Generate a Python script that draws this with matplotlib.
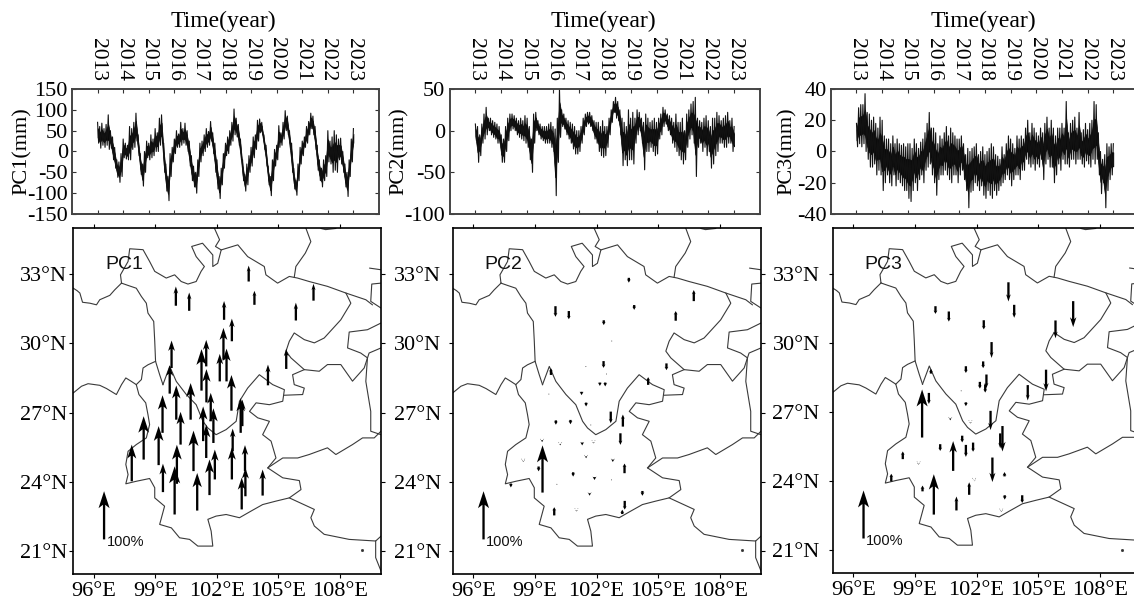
import numpy as np
import matplotlib
matplotlib.use('Agg')
import matplotlib.pyplot as plt

plt.rcParams['font.family'] = ['Liberation Serif', 'DejaVu Serif']

W, H = 1134, 603
year_ticks = list(range(2013, 2024))
year_labels = [str(y) for y in year_ticks]

pc1_hi = [70,60,68,55,65,88,50,35,10,-20,-25,-5,
          30,20,15,60,55,70,92,40,-5,-30,0,25,
          20,40,30,55,45,80,88,20,-30,-60,-5,10,
          30,50,42,70,55,68,50,25,-10,-35,-50,-20,
          20,25,40,55,48,72,45,20,-20,-60,-40,-5,
          20,35,50,70,102,80,65,30,-20,-55,-30,-10,
          10,35,40,75,78,70,40,15,-35,-60,-20,5,
          15,62,45,70,98,85,50,20,-40,-70,-30,10,
          25,35,60,72,92,85,60,15,-20,-40,-20,-10,
          50,25,35,50,40,30,32,0,-30,-50,-20,30,
          55]
pc1_lo = [20,8,15,10,15,5,8,-20,-40,-62,-74,-60,
          -15,-18,-20,-20,5,10,25,-10,-55,-83,-50,-15,
          -20,-15,-10,0,0,15,20,-50,-95,-118,-60,-25,
          -5,10,10,15,20,15,0,-35,-70,-85,-100,-60,
          -25,-10,0,10,15,25,-5,-50,-90,-113,-80,-40,
          -10,-5,15,25,40,35,15,-20,-70,-95,-80,-50,
          -35,-15,5,25,45,40,5,-35,-80,-106,-70,-35,
          -20,10,15,30,50,40,5,-50,-90,-105,-70,-30,
          -10,10,20,40,55,40,5,-45,-70,-85,-70,-60,
          -25,-30,-50,-45,-50,-20,-30,-50,-85,-108,-60,-25,
          10]
pc2_hi = [8,5,-5,8,20,28,15,15,12,10,8,5,
          -5,-10,5,15,20,20,18,15,12,15,12,18,
          15,5,-10,20,22,12,8,5,5,5,8,10,
          5,2,15,50,25,20,15,12,10,8,5,0,
          0,5,15,20,22,22,18,12,10,10,5,12,
          5,5,15,25,35,40,35,25,15,10,5,25,
          15,22,15,25,22,15,10,20,15,10,12,15,
          10,15,20,28,25,20,18,15,10,20,10,10,
          15,0,20,25,32,35,40,15,12,10,15,18,
          12,5,15,15,22,18,12,15,18,22,12,15,
          5]
pc2_lo = [-12,-38,-30,-15,-10,-5,0,-5,-8,-10,-15,-15,
          -38,-38,-25,-12,0,2,0,-5,-8,-10,-12,-15,
          -20,-35,-50,-15,0,-5,-10,-12,-15,-15,-15,-20,
          -25,-78,-38,-8,5,2,-5,-10,-15,-22,-28,-28,
          -25,-15,-5,5,8,5,0,-10,-15,-25,-30,-32,
          -30,-20,-5,10,22,15,12,-5,-42,-35,-42,-35,
          -35,-40,-15,-5,0,-15,-47,-25,-25,-20,-25,-30,
          -28,-10,-5,5,8,0,-5,-15,-20,-25,-30,-35,
          -40,-35,-20,-10,-5,-15,-55,-20,-15,-25,-20,-30,
          -25,-45,-40,-30,-25,-15,-15,-20,-20,-15,-15,-25,
          -28]
pc3_hi = [18,28,30,30,37,25,24,20,22,18,15,22,
          20,10,8,8,5,10,5,8,5,4,5,3,
          5,5,2,8,5,2,6,8,12,18,25,15,
          15,12,5,10,8,12,16,10,15,12,10,8,
          8,10,5,-2,2,0,2,3,5,-2,0,3,
          -2,0,2,5,3,-2,-3,-5,3,-2,5,10,
          8,5,2,10,8,10,8,15,20,12,18,15,
          12,10,15,12,18,22,15,20,15,10,15,15,
          18,15,32,12,18,20,22,15,25,12,14,18,
          14,18,20,32,30,12,0,-5,-2,5,3,5,
          5]
pc3_lo = [3,5,3,5,0,-5,-10,-10,-8,-15,-12,-15,
          -25,-20,-15,-20,-22,-15,-22,-18,-20,-22,-25,-25,
          -30,-32,-25,-20,-25,-18,-15,-20,-12,-10,-8,-15,
          -20,-28,-18,-15,-15,-12,-15,-18,-20,-15,-15,-20,
          -15,-12,-18,-25,-36,-26,-25,-20,-22,-25,-22,-28,
          -30,-25,-28,-30,-25,-28,-25,-22,-20,-18,-15,-18,
          -22,-18,-15,-15,-18,-12,-12,-5,-8,-10,-8,-12,
          -8,-10,-5,-18,-8,-5,-10,-10,-20,-15,-8,-12,
          -5,-8,-8,-10,-5,-5,-8,-5,-5,-8,-10,-6,
          -8,-10,-5,-8,-5,-15,-27,-20,-36,-25,-18,-15,
          -15]

# site tail lon, tail lat, signed length in percent
pc1_lon = [100.0,100.65,103.55,103.83,105.85,106.71,102.35,102.73,102.32,99.79,101.48,101.25,102.14,102.47,105.38,104.49,99.7,101.49,100.72,100.02,99.35,102.71,101.7,103.16,103.24,101.33,101.83,100.23,98.43,99.16,101.48,100.86,102.77,102.73,103.37,97.85,100.05,101.9,99.37,99.94,101.04,101.64,103.39,103.21,104.23]
pc1_lat = [31.63,31.41,32.68,31.67,30.99,31.85,31.02,30.09,29.29,28.93,29.0,27.95,28.35,28.35,28.89,28.18,27.82,27.44,26.69,26.69,26.12,27.08,26.62,26.12,26.41,25.76,25.68,25.61,24.96,24.72,25.03,24.46,25.32,24.1,24.46,24.02,23.91,24.1,23.55,22.58,22.75,23.42,23.37,22.8,23.4]
pc1_val = [40,38,33,29,37,35,39,47,66,57,55,86,57,68,42,43,59,69,76,71,78,74,59,72,55,72,72,68,90,81,69,84,47,66,54,76,81,62,59,100,78,74,59,66,54]

pc2_lon = [103.57,106.73,105.85,103.83,100.0,100.65,102.35,102.74,102.34,101.48,105.4,102.48,99.78,104.51,102.16,102.42,101.27,99.68,101.49,102.69,103.28,100.02,100.73,101.72,103.16,99.37,99.35,100.23,101.3,101.85,101.49,102.79,103.36,98.43,99.18,100.86,101.9,102.73,100.07,97.83,104.23,101.66,103.37,99.94,101.02,103.25]
pc2_lat = [32.84,31.83,30.98,31.66,31.61,31.4,31.0,30.1,29.23,28.99,29.13,28.67,28.63,28.2,28.3,28.3,27.9,27.8,27.43,27.04,26.39,26.66,26.68,26.46,26.1,23.53,25.8,25.64,25.7,25.7,25.1,24.96,24.37,24.9,24.66,24.41,24.2,24.08,23.89,23.92,23.6,23.5,23.17,22.54,22.75,22.6]
pc2_val = [-10,23,20,-10,-22,-17,-10,-1,-14,-1,-14,-1,14,16,-7,-8,-7,-1,-8,-24,25,-9,-9,-1,-24,98,-4,-3,-6,-2,-4,-5,20,-2,-10,-9,-6,-1,-1,-8,-10,-5,-18,17,-2,9]

pc3_lon = [103.55,103.83,106.7,105.84,100.0,100.65,102.35,102.73,102.32,101.48,99.78,102.48,105.38,102.16,102.42,104.49,101.25,99.68,101.48,99.35,100.72,102.68,101.7,103.26,103.15,101.3,100.23,101.48,101.83,100.86,98.41,99.18,102.77,103.36,97.85,101.88,99.37,101.64,99.92,101.02,103.37,104.22,103.2]
pc3_lat = [32.64,31.66,31.82,30.98,31.6,31.37,30.99,30.04,29.2,28.99,28.67,28.63,28.84,28.31,28.2,28.17,27.92,27.83,27.42,25.89,26.72,27.05,26.54,26.39,26.07,25.97,25.6,25.57,25.67,24.44,24.95,24.75,25.02,24.2,23.98,24.03,23.55,23.4,22.54,22.72,23.38,23.38,22.7]
pc3_val = [-40,-27,-54,-37,-16,-21,-19,-33,-14,-14,10,-28,-45,-14,-17,-32,-1,-23,-8,100,-4,-40,-2,-53,-31,-14,-14,-25,-19,62,16,-2,-51,9,16,-2,12,26,84,29,-9,-16,-2]

# boundaries (lon, lat)
qinghai_tibet = ([95.0,95.19,95.32,95.45,95.81,96.13,96.29,96.78,97.02,97.35],
                 [32.39,32.28,32.18,31.78,31.74,31.67,31.89,32.08,32.32,32.61])
sichuan_west = ([97.35,97.67,98.07,98.32,98.56,98.64,98.92,98.97,99.01,99.21,99.37],
                [32.61,32.51,32.39,32.03,31.74,31.31,30.95,30.09,29.22,28.64,28.21])
sichuan_north = ([97.35,97.3,97.67,97.75,98.4,98.72,98.97,99.53,99.94,100.26,100.59,100.99,101.23,101.39,100.99,100.77,101.3,101.8,101.8,102.04,102.21,103.02,103.5,104.31,104.39,104.96,105.53,105.93,106.5,107.39,108.29,108.53,108.04,107.23,106.75,106.26,105.77,105.53,105.37,105.61,106.26,106.99,107.39,108.04,108.61,109.18,109.42,110.0],
                 [32.61,32.97,33.55,34.1,34.06,33.55,33.12,32.83,32.97,32.68,32.57,32.68,33.12,33.33,33.76,34.2,34.34,33.83,33.33,33.47,34.05,34.27,33.76,33.33,32.97,32.61,32.9,32.83,32.68,32.47,32.18,31.74,31.02,30.23,30.02,30.16,30.45,30.09,29.66,29.37,28.86,28.79,29.08,29.08,28.36,28.93,29.58,29.8])
gansu_top = ([101.88,102.13,101.93,102.21], [34.99,34.49,34.2,34.05])
shaanxi_gansu = ([106.34,106.58,106.31,105.85,105.77], [34.99,34.41,33.91,33.33,32.86])
top_squiggle = ([107.07,107.3,107.8], [34.98,34.93,34.98])
hubei_a = ([109.45,110.0], [33.26,33.19])
hubei_b = ([110.0,109.55,109.5,110.0], [32.61,32.57,31.82,31.53])
hubei_c = ([108.29,109.26,109.58], [32.18,31.89,31.67])
chongqing_east = ([110.0,109.34,108.45,108.37,109.01,109.34,109.26,109.5,109.5,110.0],
                  [30.88,30.59,30.49,29.8,29.58,29.37,28.35,27.05,26.19,26.04])
yunnan_outer = ([95.0,95.4,95.72,96.29,96.62,97.1,97.35,97.56,97.83,98.07,98.2,98.53,98.64,98.72,98.56,98.07,97.67,97.56,97.67,97.56,98.07,98.72,98.97,98.97,99.45,99.21,99.78,100.18,100.67,101.07,101.8,101.72,101.56,101.96,102.45,103.1,103.67,104.23,104.88,105.53,106.1,106.02,105.21,104.48,104.88,104.64,104.23,104.56,103.99,103.59,103.91,104.56,105.21,105.29,104.72,104.07,103.5,103.1,102.94,102.45,101.96,101.56,101.32,100.99,100.51,100.02,99.7,99.37],
                [27.85,28.14,28.25,28.18,28.04,27.78,28.21,28.5,28.35,28.21,27.78,27.42,26.91,26.48,25.9,25.61,25.32,24.75,24.31,23.91,24.02,24.14,23.74,23.3,22.94,22.15,22.0,21.57,21.5,21.21,21.21,21.86,22.37,22.51,22.58,22.44,22.73,23.01,23.16,23.3,23.66,24.05,24.17,24.6,25.03,25.76,26.04,26.62,26.77,27.05,27.42,27.34,27.49,27.99,28.21,28.64,28.06,27.49,26.62,26.26,26.04,26.33,26.62,27.34,27.78,28.35,29.0,28.21])
tibet_branch = ([99.01,98.64,98.4,98.32,98.07], [29.22,29.07,28.93,28.43,28.21])
guangxi_guizhou = ([104.48,105.21,105.94,106.5,107.39,107.8,108.61,109.1,109.67,110.0],
                   [24.6,25.03,25.03,25.18,25.47,25.18,25.61,25.9,25.9,26.19])
chongqing_south = ([106.26,105.69,105.77,106.26,106.18,105.29], [28.86,28.64,28.21,28.06,27.78,27.75])
vietnam_guangxi = ([105.53,106.75,106.58,106.75,107.23,108.45,109.74,110.0],
                   [23.3,22.8,22.44,22.08,21.72,21.5,21.43,21.64])
coast = ([109.74,109.74,110.0], [21.43,20.71,20.13])
islet_lon, islet_lat = [109.06], [21.02]
borders = [qinghai_tibet, sichuan_west, sichuan_north, gansu_top, shaanxi_gansu, top_squiggle,
           hubei_a, hubei_b, hubei_c, chongqing_east, yunnan_outer, tibet_branch,
           guangxi_guizhou, chongqing_south, vietnam_guangxi, coast]

lon_ticks = [96, 99, 102, 105, 108]
lon_labels = ['96°E', '99°E', '102°E', '105°E', '108°E']
lat_ticks = [21, 24, 27, 30, 33]
lat_labels = ['21°N', '24°N', '27°N', '30°N', '33°N']

panels = [
    dict(name='PC1', hi=pc1_hi, lo=pc1_lo, ylim=(-150, 150), yt=[-150,-100,-50,0,50,100,150],
         box=(72, 89, 379, 214), mbox=(73.3, 228, 381, 574), core=0.45, latpad=1.3,
         lon=pc1_lon, lat=pc1_lat, val=pc1_val, title_x=223, ylab_x=22),
    dict(name='PC2', hi=pc2_hi, lo=pc2_lo, ylim=(-100, 50), yt=[-100,-50,0,50],
         box=(449.5, 89, 760, 214), mbox=(452.7, 228, 761, 574), core=0.45, latpad=5.6,
         lon=pc2_lon, lat=pc2_lat, val=pc2_val, title_x=603, ylab_x=399),
    dict(name='PC3', hi=pc3_hi, lo=pc3_lo, ylim=(-40, 40), yt=[-40,-20,0,20,40],
         box=(830.8, 89, 1139, 214), mbox=(832.7, 228, 1141, 573), core=0.45, latpad=6.4,
         lon=pc3_lon, lat=pc3_lat, val=pc3_val, title_x=983, ylab_x=787),
]

fig = plt.figure(figsize=(W/100, H/100), dpi=100)

def px_axes(box):
    x0, y0, x1, y1 = box
    return fig.add_axes([x0/W, 1-y1/H, (x1-x0)/W, (y1-y0)/H])

PX_PER_LAT = 346.0 / 15
DEG_PER_PCT = 2.09 / 100

for p in panels:
    ax = px_axes(p['box'])
    hi = np.array(p['hi'], float)
    lo = np.array(p['lo'], float)
    n = len(hi)
    t = 2013 + np.arange(n)/12
    tz = np.empty(2*n); yz = np.empty(2*n)
    tz[0::2] = t; tz[1::2] = t + 1/24
    yz[0::2] = hi; yz[1::2] = lo
    ax.plot(tz[:-1], yz[:-1], color='#111111', lw=0.8)
    mid = (hi + lo) / 2
    half = (hi - lo) / 2 * p['core']
    ax.fill_between(t, mid - half, mid + half, color='black', lw=0.5)
    ax.set_xlim(2012, 2024)
    ax.set_ylim(*p['ylim'])
    ax.set_xticks(year_ticks)
    ax.set_xticklabels(year_labels, rotation=-90, fontsize=15.5)
    ax.xaxis.tick_top()
    ax.set_yticks(p['yt'])
    ax.set_yticklabels([str(v) for v in p['yt']], fontsize=16)
    ax.tick_params(axis='x', which='both', direction='in', top=True, bottom=True, length=3, width=0.8, pad=6, color='#333333')
    ax.tick_params(axis='y', which='both', direction='in', left=True, right=True, length=3, width=0.8, pad=3, color='#333333')
    for s in ax.spines.values():
        s.set_linewidth(1.4); s.set_color('#444444')
    fig.text(p['title_x']/W, 1-21/H, 'Time(year)', fontsize=17, ha='center', va='center')
    fig.text(p['ylab_x']/W, 1-151/H, p['name']+'(mm)', fontsize=16, rotation=90, ha='center', va='center')

    m = px_axes(p['mbox'])
    m.set_xlim(95, 110)
    m.set_ylim(20, 35)
    for xs, ys in borders:
        m.plot(xs, ys, color='#3a3a3a', lw=0.8)
    m.plot(islet_lon, islet_lat, 's', color='#333333', ms=1)
    lon = p['lon'] + [96.5]
    lat = p['lat'] + [21.5]
    val = p['val'] + [100]
    shaft = 2.3
    for x, y, v in zip(lon, lat, val):
        length = abs(v) * DEG_PER_PCT * PX_PER_LAT
        hl = float(np.clip(0.38 * length, 3.5, 17))
        hw = max(0.65 * hl, 4.0)
        m.quiver([x], [y], [0], [v], angles='xy', scale_units='xy', scale=1/DEG_PER_PCT,
                 units='dots', width=shaft, headwidth=hw/shaft, headlength=hl/shaft,
                 headaxislength=0.8*hl/shaft, minshaft=0.1, minlength=0.4,
                 color='black', zorder=3)
    m.text(96.55, 33.43, p['name'], fontsize=14, family='Liberation Sans', ha='left', va='center', color='#111111')
    m.text(96.62, 21.38, '100%', fontsize=10.5, family='Liberation Sans', ha='left', va='center', color='#111111')
    m.set_xticks(lon_ticks); m.set_xticklabels(lon_labels, fontsize=16)
    m.set_yticks(lat_ticks); m.set_yticklabels(lat_labels, fontsize=16)
    m.tick_params(axis='x', direction='out', top=True, length=3, width=0.8, pad=3)
    m.tick_params(axis='y', direction='out', right=True, length=3, width=0.8, pad=p['latpad'])
    for s in m.spines.values():
        s.set_linewidth(1.2); s.set_color('black')

fig.savefig('out.png', dpi=100)
